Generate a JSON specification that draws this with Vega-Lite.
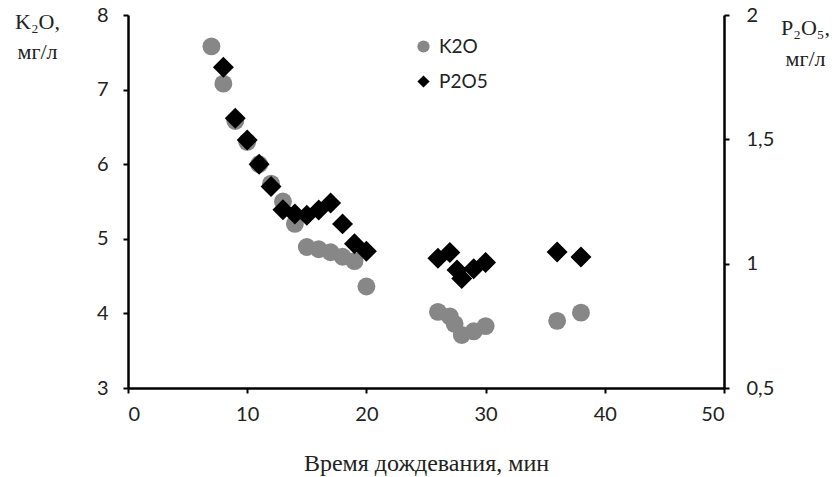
{
  "$schema": "https://vega.github.io/schema/vega-lite/v6.json",
  "autosize": {"type": "none"},
  "padding": {"left": 128, "top": 15, "right": 111, "bottom": 89},
  "width": 596,
  "height": 373,
  "background": "white",
  "config": {
    "view": {"stroke": null},
    "axis": {"grid": false, "domainColor": "black", "domainWidth": 2.5, "tickColor": "black", "tickWidth": 2, "tickSize": 5, "labelFont": "Lato", "labelFontSize": 20, "labelColor": "#222", "titleFont": "Liberation Serif", "titleFontWeight": "normal", "titleFontSize": 22, "titleColor": "#222"},
    "legend": {"labelFont": "Lato", "labelFontSize": 19, "labelColor": "#222"}
  },
  "datasets": {
    "k2o": [
      {"t": 7, "v": 7.58, "s": "K2O"},
      {"t": 8, "v": 7.08, "s": "K2O"},
      {"t": 9, "v": 6.58, "s": "K2O"},
      {"t": 10, "v": 6.3, "s": "K2O"},
      {"t": 11, "v": 6.0, "s": "K2O"},
      {"t": 12, "v": 5.74, "s": "K2O"},
      {"t": 13, "v": 5.5, "s": "K2O"},
      {"t": 14, "v": 5.2, "s": "K2O"},
      {"t": 15, "v": 4.89, "s": "K2O"},
      {"t": 16, "v": 4.86, "s": "K2O"},
      {"t": 17, "v": 4.82, "s": "K2O"},
      {"t": 18, "v": 4.76, "s": "K2O"},
      {"t": 19, "v": 4.7, "s": "K2O"},
      {"t": 20, "v": 4.36, "s": "K2O"},
      {"t": 26, "v": 4.02, "s": "K2O"},
      {"t": 27, "v": 3.96, "s": "K2O"},
      {"t": 27.4, "v": 3.86, "s": "K2O"},
      {"t": 28, "v": 3.71, "s": "K2O"},
      {"t": 29, "v": 3.76, "s": "K2O"},
      {"t": 30, "v": 3.83, "s": "K2O"},
      {"t": 36, "v": 3.9, "s": "K2O"},
      {"t": 38, "v": 4.01, "s": "K2O"}
    ],
    "p2o5": [
      {"t": 8, "v": 1.79, "s": "P2O5"},
      {"t": 9, "v": 1.585, "s": "P2O5"},
      {"t": 10, "v": 1.497, "s": "P2O5"},
      {"t": 11, "v": 1.4, "s": "P2O5"},
      {"t": 12, "v": 1.31, "s": "P2O5"},
      {"t": 13, "v": 1.217, "s": "P2O5"},
      {"t": 14, "v": 1.2, "s": "P2O5"},
      {"t": 15, "v": 1.195, "s": "P2O5"},
      {"t": 16, "v": 1.216, "s": "P2O5"},
      {"t": 17, "v": 1.244, "s": "P2O5"},
      {"t": 18, "v": 1.16, "s": "P2O5"},
      {"t": 19, "v": 1.08, "s": "P2O5"},
      {"t": 20, "v": 1.05, "s": "P2O5"},
      {"t": 26, "v": 1.022, "s": "P2O5"},
      {"t": 27, "v": 1.045, "s": "P2O5"},
      {"t": 27.6, "v": 0.975, "s": "P2O5"},
      {"t": 28, "v": 0.94, "s": "P2O5"},
      {"t": 29, "v": 0.98, "s": "P2O5"},
      {"t": 30, "v": 1.005, "s": "P2O5"},
      {"t": 36, "v": 1.047, "s": "P2O5"},
      {"t": 38, "v": 1.027, "s": "P2O5"}
    ]
  },
  "layer": [
    {
      "data": {"name": "k2o"},
      "mark": {"type": "point", "filled": true, "opacity": 1, "size": 320},
      "encoding": {
        "x": {"field": "t", "type": "quantitative", "scale": {"domain": [0, 50], "nice": false}, "axis": {"values": [0, 10, 20, 30, 40, 50], "title": "Время дождевания, мин", "titlePadding": 27, "labelPadding": 11, "titleFontSize": 24}},
        "y": {"field": "v", "type": "quantitative", "scale": {"domain": [3, 8], "nice": false, "zero": false}, "axis": {"values": [3, 4, 5, 6, 7, 8], "labelPadding": 15, "title": ["K₂O,", "мг/л"], "titleAngle": 0, "titleX": -91, "titleY": -4, "titleAlign": "center", "titleBaseline": "top", "titleLineHeight": 30}},
        "color": {"field": "s", "type": "nominal", "scale": {"domain": ["K2O", "P2O5"], "range": ["#878787", "#000000"]}, "legend": {"title": null, "orient": "none", "legendX": 286, "legendY": 22, "symbolSize": 150, "rowPadding": 15, "labelOffset": 6}},
        "shape": {"field": "s", "type": "nominal", "scale": {"domain": ["K2O", "P2O5"], "range": ["circle", "diamond"]}, "legend": {"title": null, "orient": "none", "legendX": 286, "legendY": 22}}
      }
    },
    {
      "data": {"name": "p2o5"},
      "mark": {"type": "point", "filled": true, "opacity": 1, "size": 440},
      "encoding": {
        "x": {"field": "t", "type": "quantitative"},
        "y": {"field": "v", "type": "quantitative", "scale": {"domain": [0.5, 2], "nice": false, "zero": false}, "axis": {"orient": "right", "values": [0.5, 1, 1.5, 2], "labelExpr": "replace(format(datum.value, '~g'), '.', ',')", "labelPadding": 17, "title": ["P₂O₅,", "мг/л"], "titleAngle": 0, "titleX": 81, "titleY": 2, "titleAlign": "center", "titleBaseline": "top", "titleLineHeight": 31}},
        "color": {"field": "s", "type": "nominal"},
        "shape": {"field": "s", "type": "nominal"}
      }
    }
  ],
  "resolve": {"scale": {"y": "independent"}}
}
